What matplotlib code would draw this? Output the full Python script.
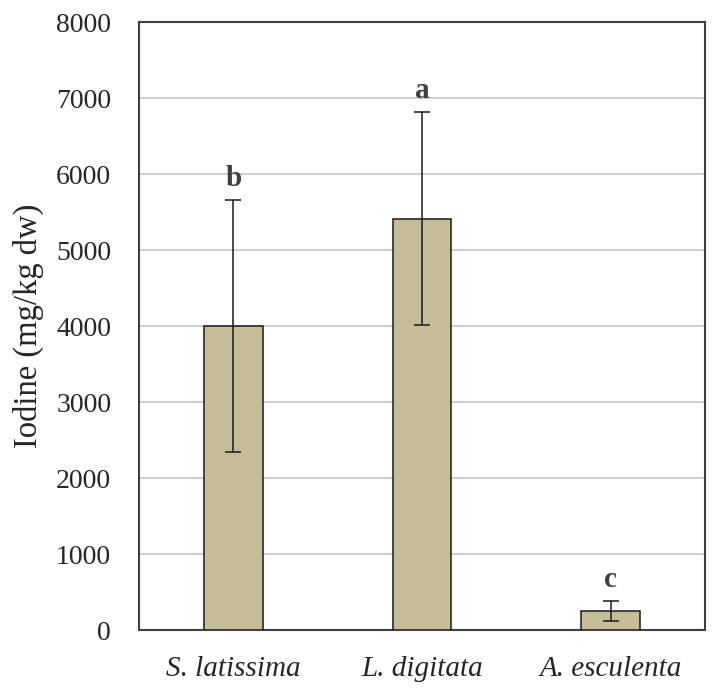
import matplotlib.pyplot as plt
import numpy as np

species = ['S. latissima', 'L. digitata', 'A. esculenta']
iodine = [4000, 5410, 250]
iodine_err = [1660, 1400, 130]
letters = ['b', 'a', 'c']
yticks = [0, 1000, 2000, 3000, 4000, 5000, 6000, 7000, 8000]

plt.rcParams['font.family'] = ['Liberation Serif', 'DejaVu Serif']

fig = plt.figure(figsize=(7.18, 6.93), dpi=100)
ax = fig.add_axes([139/718, 63/693, 566/718, 608/693])

x = np.arange(len(species))
ax.bar(x, iodine, width=0.31, color='#c4bd97', edgecolor='#1a1a1a', linewidth=1.1, zorder=3)
ax.errorbar(x, iodine, yerr=iodine_err, fmt='none', ecolor='#1a1a1a',
            elinewidth=1.1, capsize=6, capthick=1.1, zorder=4)

for xi, v, e, l in zip(x, iodine, iodine_err, letters):
    ax.annotate(l, (xi, v + e), xytext=(0, 6), textcoords='offset points',
                ha='center', va='bottom', fontsize=21, fontweight='bold', color='#404040')

ax.set_xlim(-0.5, 2.5)
ax.set_ylim(0, 8000)
ax.set_yticks(yticks)
ax.set_xticks(x)
ax.set_xticklabels(species, fontstyle='italic', fontsize=21, color='#262626')
ax.tick_params(axis='y', labelsize=20, labelcolor='#262626', length=0, pad=20)
ax.tick_params(axis='x', length=0, pad=19)
ax.yaxis.grid(True, color='#d0d0d0', linewidth=1.5, zorder=0)
ax.set_axisbelow(True)
for s in ax.spines.values():
    s.set_color('#404040')
    s.set_linewidth(1.5)

ax.set_ylabel('Iodine (mg/kg dw)', fontsize=23.5, color='#262626', labelpad=9)

fig.savefig('out.png', dpi=100)
